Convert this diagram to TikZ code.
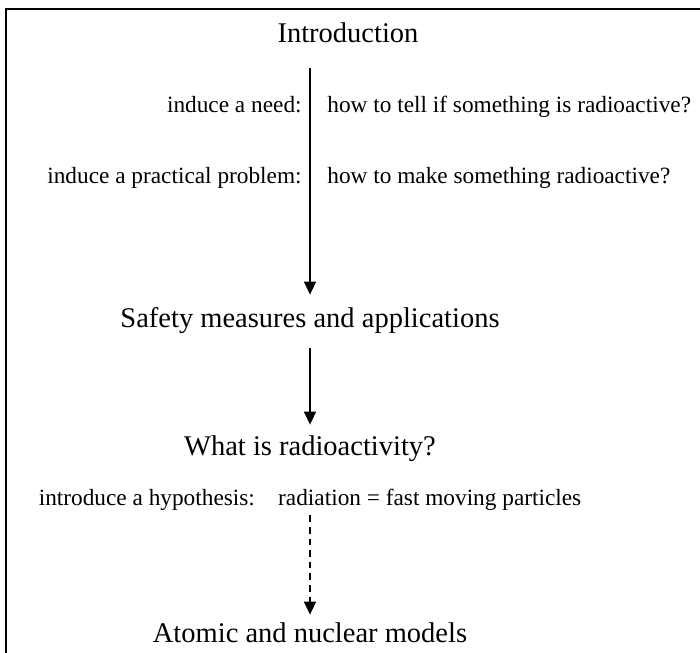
\documentclass[tikz,border=0pt]{standalone}
\usepackage{fontspec}
\setmainfont{Liberation Serif}
\usetikzlibrary{arrows.meta}
\begin{document}
\begin{tikzpicture}[x=0.5pt, y=-0.5pt,
    heading/.style={font=\fontsize{14.25pt}{17pt}\selectfont, inner sep=0, text height=10pt, text depth=3pt},
    remark/.style={font=\fontsize{11.65pt}{14pt}\selectfont, inner sep=0, text height=8pt, text depth=2.5pt},
    flow/.style={line width=0.8pt, -{Triangle[length=6.5pt, width=6pt]}},
    guess/.style={flow, dash pattern=on 3.3pt off 2.5pt}]
    \useasboundingbox (0, 0) rectangle (700, 652);
    \clip (0, 0) rectangle (700, 652);
    \draw[line width=1pt] (6, 9) rectangle (720, 680);

    \node[heading, anchor=base] (intro) at (348, 43) {Introduction};
    \node[remark, anchor=base east] (needkind) at (302, 113) {induce a need:};
    \node[remark, anchor=base west] (needtext) at (327, 113) {how to tell if something is radioactive?};
    \node[remark, anchor=base east] (problemkind) at (302, 184) {induce a practical problem:};
    \node[remark, anchor=base west] (problemtext) at (327, 184) {how to make something radioactive?};

    \node[heading, anchor=base] (safety) at (310, 327) {Safety measures and applications};
    \node[heading, anchor=base] (what) at (310, 455) {What is radioactivity?};
    \node[remark, anchor=base] (hypothesis) at (310, 505) {introduce a hypothesis:\quad radiation = fast moving particles};
    \node[heading, anchor=base] (models) at (310, 642) {Atomic and nuclear models};

    \draw[flow, shorten <=9.5pt, shorten >=6pt] (intro.south -| safety.north) -- (safety.north);
    \draw[flow, shorten <=7.5pt, shorten >=5pt] (safety.south) -- (what.north);
    \draw[guess, shorten <=2.5pt, shorten >=3.5pt] (hypothesis.south) -- (models.north);
\end{tikzpicture}
\end{document}
